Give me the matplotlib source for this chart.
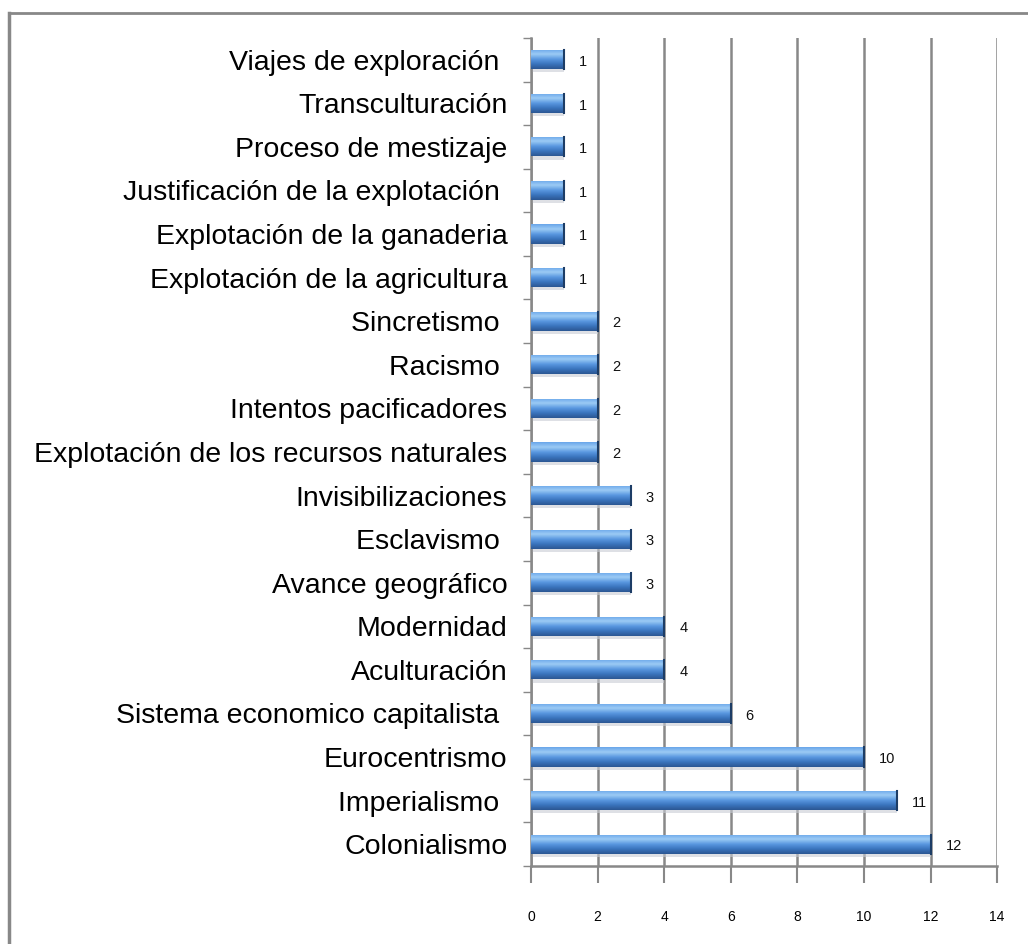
import numpy as np
import matplotlib
matplotlib.use("Agg")
from matplotlib import pyplot as plt
from matplotlib.lines import Line2D

# categories from bottom to top
categories = [
    "Colonialismo", "Imperialismo ", "Eurocentrismo", "Sistema economico capitalista ",
    "Aculturación", "Modernidad", "Avance geográfico", "Esclavismo ", "Invisibilizaciones",
    "Explotación de los recursos naturales", "Intentos pacificadores", "Racismo ",
    "Sincretismo ", "Explotación de la agricultura", "Explotación de la ganaderia",
    "Justificación de la explotación ", "Proceso de mestizaje", "Transculturación",
    "Viajes de exploración ",
]
values = [12, 11, 10, 6, 4, 4, 3, 3, 3, 2, 2, 2, 2, 1, 1, 1, 1, 1, 1]
xticks = [0, 2, 4, 6, 8, 10, 12, 14]

plt.rcParams['font.family'] = ['Liberation Sans', 'DejaVu Sans']

fig = plt.figure(figsize=(10.28, 9.44), dpi=100)
ax = fig.add_axes([0.5165, 0.0826, 0.4535, 0.8772])

pos = np.arange(len(categories))
h = 0.44
grad = np.linspace(0, 1, 64).reshape(-1, 1)
cmap = matplotlib.colors.LinearSegmentedColormap.from_list(
    "cyl", ["#2b5793", "#3a74bd", "#5a98e0", "#9ccbf5", "#6aa6ea"])

# shadow under bars
ax.barh(pos - 0.07, values, height=h, color="#c8ccd4", alpha=0.6, zorder=2)
bars = ax.barh(pos, values, height=h, color="#4a86d0", zorder=3)
for b, v, y in zip(bars, values, pos):
    im = ax.imshow(grad, extent=(0, v, y - h / 2, y + h / 2), cmap=cmap,
                   aspect='auto', origin='lower', zorder=4, interpolation='bilinear')
    im.set_clip_path(b)
    ax.plot([v, v], [y - h / 2, y + h / 2], color="#1d3d66", lw=1.5, zorder=5)
    ax.text(v + 0.45, y - 0.05, str(v), va='center', ha='left', fontsize=10.5, color='#111111')

ax.set_xlim(0, 14)
ax.set_ylim(-0.5, len(categories) - 0.5)
ax.set_xticks(xticks)
ax.set_xticklabels([str(t) for t in xticks], fontsize=10)
ax.set_yticks(pos)
ax.set_yticklabels(categories, fontsize=20.5)
ax.set_yticks(np.arange(-0.5, len(categories), 1), minor=True)
ax.tick_params(axis='y', which='major', length=0, pad=17)
ax.tick_params(axis='y', which='minor', length=6, color='#888888', width=1)
ax.tick_params(axis='x', length=12, color='#888888', width=1.5, pad=20)
ax.grid(axis='x', color='#888888', lw=1.8, zorder=1)
ax.set_axisbelow(True)
for s in ['top', 'right']:
    ax.spines[s].set_visible(False)
for s in ['left', 'bottom']:
    ax.spines[s].set_color('#888888')
    ax.spines[s].set_linewidth(1.8)

# outer frame (cut at right and bottom)
fig.add_artist(Line2D([9 / 1028, 1], [1 - 13 / 944, 1 - 13 / 944], color='#888888', lw=2))
fig.add_artist(Line2D([9 / 1028, 9 / 1028], [1 - 13 / 944, 0], color='#888888', lw=2.5))

fig.savefig("out.png", dpi=100)
